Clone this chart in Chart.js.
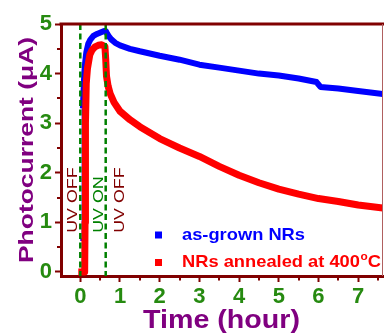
<!DOCTYPE html>
<html><head><meta charset="utf-8">
<script src="https://cdn.jsdelivr.net/npm/chart.js@4.4.0/dist/chart.umd.min.js"></script>
<style>html,body{margin:0;padding:0;background:#fff;}#wrap{width:384px;height:334px;position:relative;}</style>
</head><body><div id="wrap"><canvas id="c" width="384" height="334"></canvas></div>
<script>
// ---- data ----
const seriesNames = ['as-grown NRs', 'NRs annealed at 400'];
const blueRiseHours   = [0.00, 0.05, 0.065];
const blueRiseCurrent = [0.65, 0.65, 3.30];
const blueHours   = [0.065,0.08,0.10,0.12,0.15,0.20,0.25,0.33,0.42,0.54,0.60,0.64,0.68,0.72,0.78,0.88,1.00,1.25,1.50,2.00,2.50,3.00,3.50,4.00,4.50,5.00,5.50,5.95,6.05,6.50,7.00,7.62];
const blueCurrent = [3.30,3.60,4.00,4.20,4.42,4.60,4.68,4.76,4.80,4.84,4.86,4.86,4.80,4.75,4.69,4.62,4.57,4.50,4.45,4.36,4.28,4.18,4.12,4.06,4.00,3.96,3.90,3.83,3.73,3.70,3.65,3.59];
const redHours   = [-0.05,0.11,0.12,0.13,0.15,0.18,0.24,0.30,0.37,0.45,0.54,0.62,0.64,0.66,0.70,0.75,0.85,1.00,1.25,1.50,2.00,2.50,3.00,3.50,4.00,4.50,5.00,5.50,6.00,6.50,7.00,7.62];
const redCurrent = [0.00,0.00,1.00,3.00,3.80,4.10,4.38,4.48,4.54,4.57,4.58,4.55,4.30,3.95,3.75,3.60,3.42,3.24,3.07,2.93,2.69,2.50,2.33,2.13,1.95,1.80,1.67,1.57,1.48,1.42,1.35,1.29];
const uvMarkHours = [0, 0.64];
const uvLabels = ['UV OFF', 'UV ON', 'UV OFF'];
const uvLabelHours = [-0.08, 0.56, 1.10];
const uvLabelColors = ['#800000', '#008000', '#800000'];
const xTickValues = [0,1,2,3,4,5,6,7];
const yTickValues = [0,1,2,3,4,5];
const xTitle = 'Time (hour)';
const yTitle = 'Photocurrent (\u03bcA)';

const FONT = '"Liberation Sans", Arial, Helvetica, sans-serif';
const AXIS = '#800000';
const TICKLBL = '#268a10';
const PURPLE = '#800080';
const pts = (xs, ys) => xs.map((x, i) => ({x, y: ys[i]}));

function stretchText(ctx, text, x, y, targetW, align) {
  const w = ctx.measureText(text).width;
  const s = targetW / w;
  ctx.save();
  ctx.translate(x, y);
  ctx.scale(s, 1);
  ctx.textAlign = align || 'left';
  ctx.fillText(text, 0, 0);
  ctx.restore();
  return w * s;
}

const overlay = {
  id: 'overlay',
  afterDraw(chart) {
    const {ctx, chartArea: a, scales: {x, y}} = chart;
    ctx.save();
    // top and right frame
    ctx.strokeStyle = AXIS; ctx.lineWidth = 3;
    ctx.beginPath(); ctx.moveTo(a.left - 1.5, a.top); ctx.lineTo(a.right + 1, a.top); ctx.stroke();
    ctx.lineWidth = 1; ctx.strokeStyle = '#b06060';
    ctx.beginPath(); ctx.moveTo(a.right - 0.5, a.top); ctx.lineTo(a.right - 0.5, a.bottom); ctx.stroke();
    // minor ticks
    ctx.strokeStyle = AXIS; ctx.lineWidth = 2;
    for (let v = -0.5; v < x.max; v += 1) {
      if (v <= x.min) continue;
      const px = Math.round(x.getPixelForValue(v));
      ctx.beginPath(); ctx.moveTo(px, a.bottom); ctx.lineTo(px, a.bottom + 4.5); ctx.stroke();
    }
    for (let v = 0.5; v < y.max; v += 1) {
      const py = Math.round(y.getPixelForValue(v));
      ctx.beginPath(); ctx.moveTo(a.left - 4, py); ctx.lineTo(a.left, py); ctx.stroke();
    }
    // UV labels (rotated)
    ctx.font = `15.5px ${FONT}`;
    ctx.textBaseline = 'alphabetic';
    uvLabels.forEach((t, i) => {
      ctx.save();
      ctx.fillStyle = uvLabelColors[i];
      ctx.translate(x.getPixelForValue(uvLabelHours[i]), y.getPixelForValue(0.79));
      ctx.rotate(-Math.PI / 2);
      ctx.scale(1.15, 1);
      ctx.fillText(t, 0, 0);
      ctx.restore();
    });
    // Y title
    ctx.save();
    ctx.fillStyle = PURPLE;
    ctx.font = `bold 21px ${FONT}`;
    ctx.textBaseline = 'alphabetic';
    ctx.translate(33.3, 150);
    ctx.rotate(-Math.PI / 2);
    stretchText(ctx, yTitle, 0, 0, 226, 'center');
    ctx.restore();
    // X title
    ctx.fillStyle = PURPLE;
    ctx.font = `bold 26px ${FONT}`;
    ctx.textBaseline = 'alphabetic';
    stretchText(ctx, xTitle, 221.5, 327.5, 157, 'center');
    // legend
    const colors = ['#0000ff', '#ff0000'];
    const rowsY = [235, 262.5];
    ctx.font = `bold 17px ${FONT}`;
    ctx.textBaseline = 'middle';
    const s = 123 / ctx.measureText(seriesNames[0]).width;
    rowsY.forEach((ry, i) => {
      ctx.fillStyle = colors[i];
      ctx.fillRect(155, ry - 3.5, 7, 7);
      ctx.save();
      ctx.translate(182, ry);
      ctx.scale(s, 1);
      ctx.textAlign = 'left';
      ctx.font = `bold 17px ${FONT}`;
      ctx.fillText(seriesNames[i], 0, 0);
      if (i === 1) {
        let w = ctx.measureText(seriesNames[i]).width;
        ctx.font = `bold 11px ${FONT}`;
        ctx.fillText('o', w + 0.5, -6);
        w += ctx.measureText('o').width + 0.5;
        ctx.font = `bold 17px ${FONT}`;
        ctx.fillText('C', w, 0);
      }
      ctx.restore();
    });
    ctx.restore();
  }
};

const dashSets = uvMarkHours.map(h => ({
  data: [{x: h, y: -0.1}, {x: h, y: 5.1}],
  borderColor: '#008000', borderWidth: 2.5, borderDash: [6, 3.5],
  pointRadius: 0, tension: 0
}));

new Chart(document.getElementById('c'), {
  type: 'line',
  data: {
    datasets: [
      ...dashSets,
      {data: pts(redHours, redCurrent), borderColor: '#ff0000', borderWidth: 7, pointRadius: 0, tension: 0, borderJoinStyle: 'round', borderCapStyle: 'butt'},
      {data: pts(blueHours, blueCurrent), borderColor: '#0000ff', borderWidth: 6, pointRadius: 0, tension: 0, borderJoinStyle: 'round'},
      {data: pts(blueRiseHours, blueRiseCurrent), borderColor: '#0000ff', borderWidth: 2.5, pointRadius: 0, tension: 0}
    ]
  },
  options: {
    responsive: false,
    animation: false,
    devicePixelRatio: 1,
    layout: {padding: {top: 24, right: 1, left: 0, bottom: 0}},
    plugins: {legend: {display: false}, tooltip: {enabled: false}},
    scales: {
      x: {
        type: 'linear', min: -0.486, max: 7.625,
        afterFit: s => { s.height = 58; },
        afterBuildTicks: s => { s.ticks = xTickValues.map(v => ({value: v})); },
        grid: {drawOnChartArea: false, drawTicks: true, tickLength: 6, tickWidth: 2, tickColor: AXIS},
        border: {display: true, color: AXIS, width: 3},
        ticks: {color: TICKLBL, padding: 2, font: {family: FONT, weight: 'bold', size: 22}, maxRotation: 0, autoSkip: false}
      },
      y: {
        type: 'linear', min: -0.081, max: 5,
        afterFit: s => { s.width = 61; },
        afterBuildTicks: s => { s.ticks = yTickValues.map(v => ({value: v})); },
        grid: {drawOnChartArea: false, drawTicks: true, tickLength: 6, tickWidth: 2, tickColor: AXIS},
        border: {display: true, color: AXIS, width: 3},
        ticks: {color: TICKLBL, padding: 3, font: {family: FONT, weight: 'bold', size: 22}, autoSkip: false}
      }
    }
  },
  plugins: [overlay]
});
</script>
</body></html>
